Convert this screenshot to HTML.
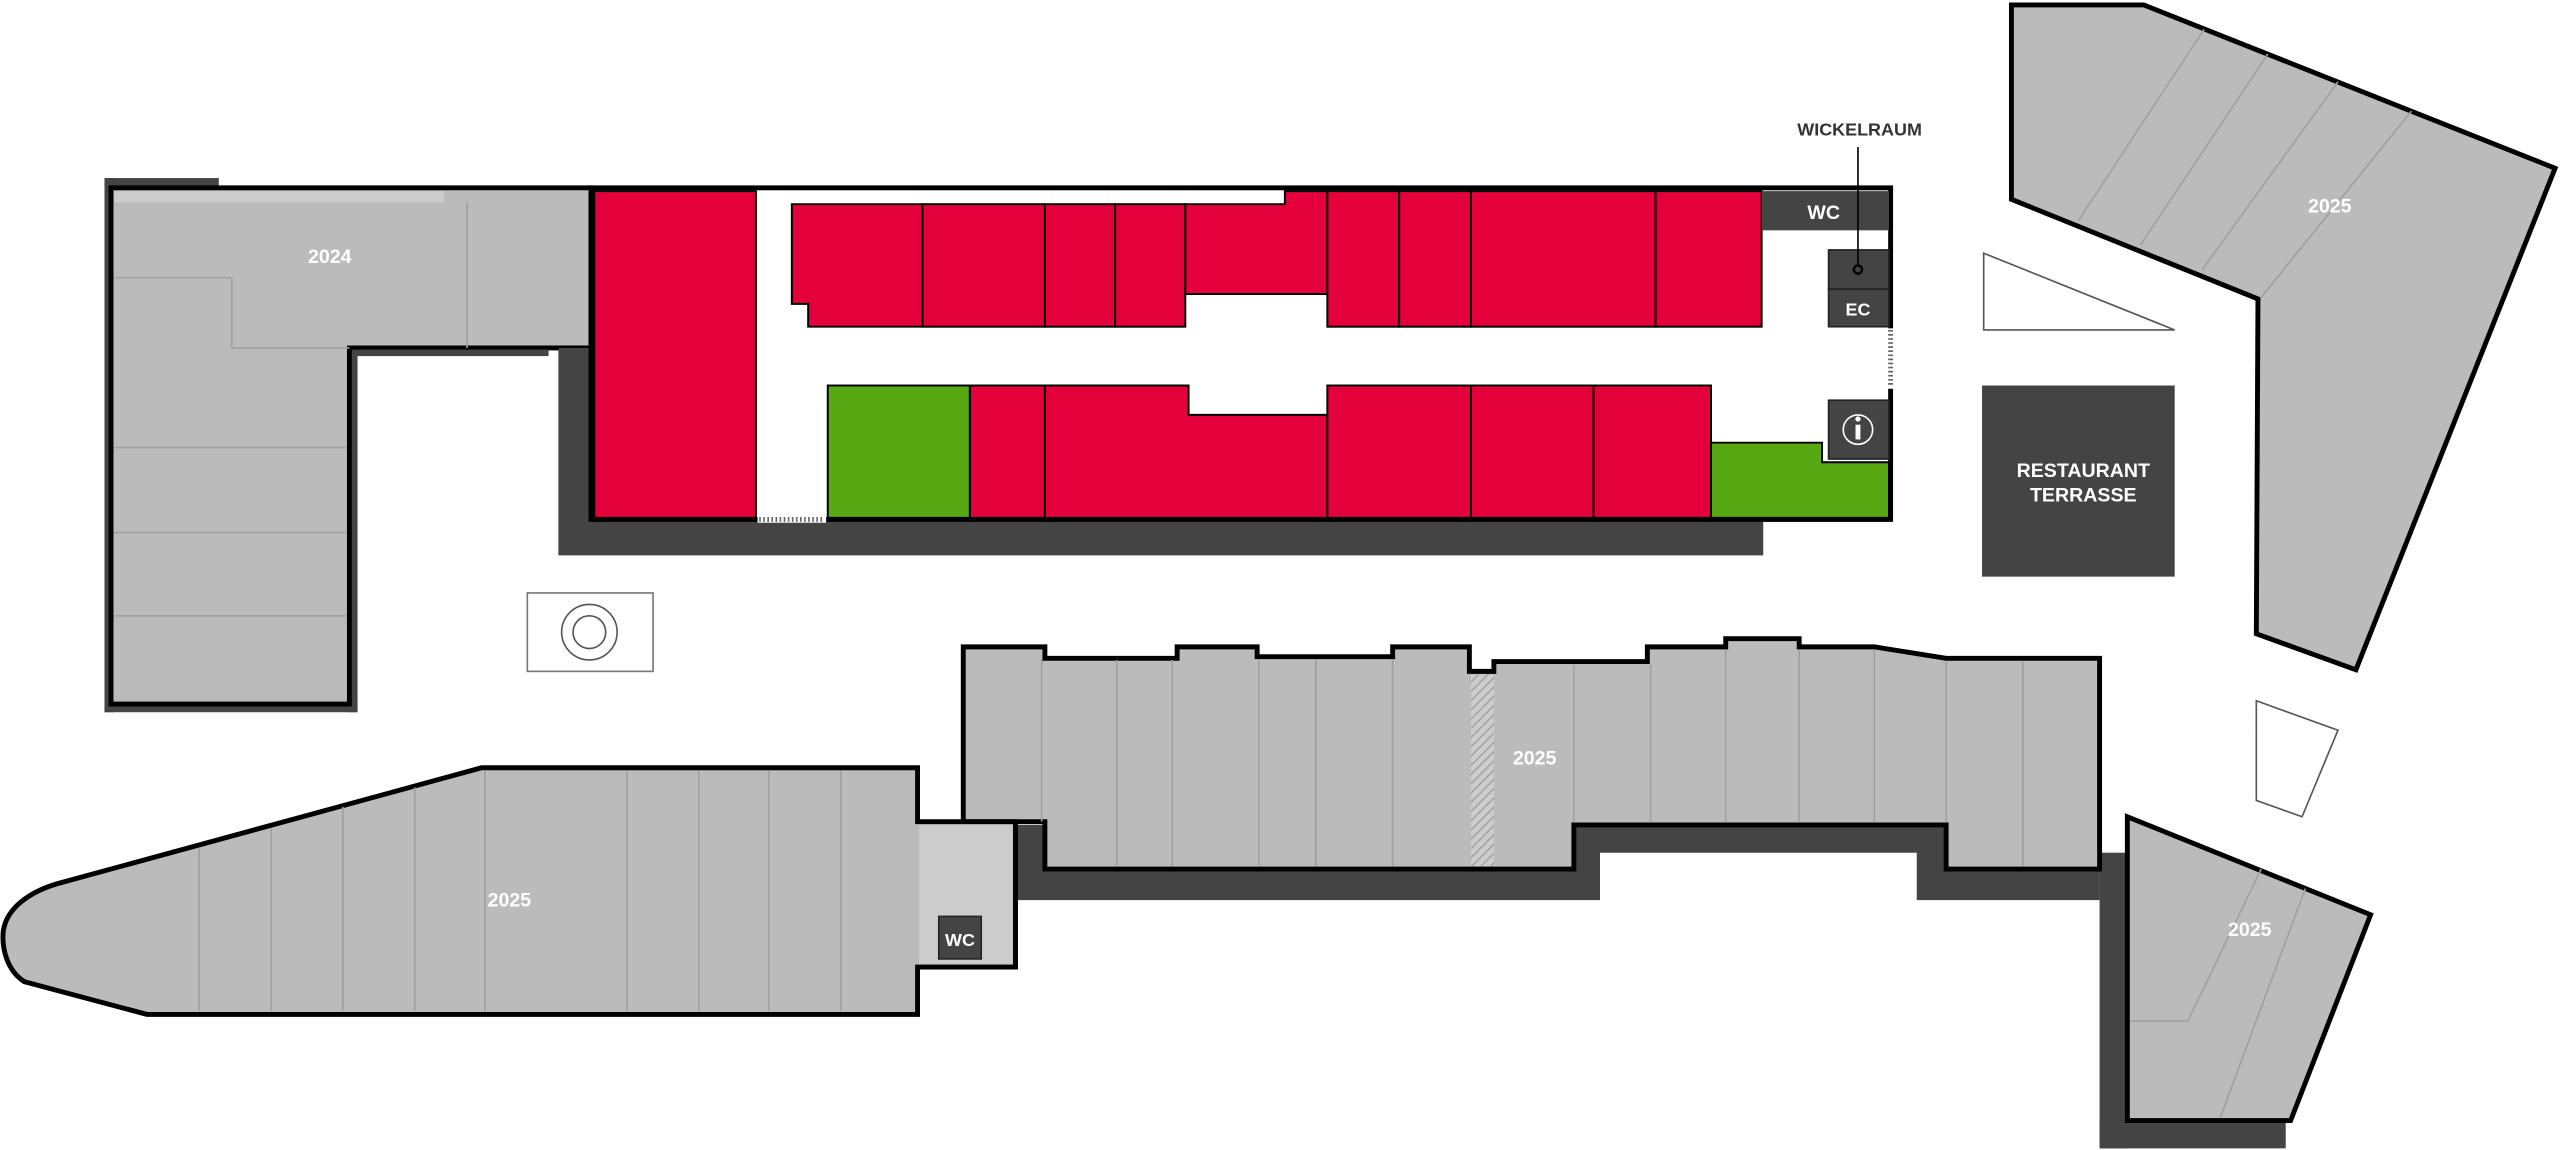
<!DOCTYPE html>
<html><head><meta charset="utf-8"><style>
html,body{margin:0;padding:0;background:#fff;}
svg{display:block;}
text{font-family:"Liberation Sans",sans-serif;font-weight:bold;fill:#fff;}
</style></head><body>
<svg width="2560" height="1150" viewBox="0 0 1568 704" preserveAspectRatio="none" xmlns="http://www.w3.org/2000/svg">
<rect width="1568" height="704" fill="#fff"/>
<!-- 2024 building -->
<rect x="64" y="109" width="70" height="6" fill="#444"/>
<rect x="64" y="109" width="6" height="327" fill="#444"/>
<rect x="64" y="430" width="155" height="6" fill="#444"/>
<rect x="213" y="213" width="6" height="223" fill="#444"/>
<polygon points="68,115 362,115 362,213 214,213 214,431 68,431" fill="#bbb" stroke="#000" stroke-width="3"/>
<rect x="70" y="117" width="202" height="7" fill="#ccc"/>
<g stroke="#a0a0a0" stroke-width="1" fill="none">
<polyline points="70,170 142,170 142,213 214,213"/>
<line x1="286" y1="124" x2="286" y2="213"/>
<line x1="70" y1="274" x2="212" y2="274"/>
<line x1="70" y1="326" x2="212" y2="326"/>
<line x1="70" y1="377" x2="212" y2="377"/>
</g>
<rect x="216" y="214" width="120" height="4" fill="#444"/>
<text x="202" y="161" font-size="12" text-anchor="middle">2024</text>

<!-- red block shadow -->
<rect x="342" y="213" width="738" height="127" fill="#444"/>
<rect x="362" y="115" width="796" height="203" fill="#fff" stroke="#000" stroke-width="3"/>
<g stroke="#000" stroke-width="1.2" fill="#e4003a">
<rect x="364" y="117" width="99" height="200"/>
<polygon points="485,125 565,125 565,200 495,200 495,186 485,186"/>
<rect x="565" y="125" width="75" height="75"/>
<rect x="640" y="125" width="43" height="75"/>
<rect x="683" y="125" width="43" height="75"/>
<polygon points="726,125 787,125 787,117 813,117 813,180 726,180"/>
<rect x="813" y="117" width="44" height="83"/>
<rect x="857" y="117" width="44" height="83"/>
<rect x="901" y="117" width="113" height="83"/>
<rect x="1014" y="117" width="65" height="83"/>
<rect x="594" y="236" width="46" height="81"/>
<polygon points="640,236 728,236 728,254 813,254 813,317 640,317"/>
<rect x="813" y="236" width="88" height="81"/>
<rect x="901" y="236" width="75" height="81"/>
<rect x="976" y="236" width="72" height="81"/>
</g>
<g stroke="#000" stroke-width="1.2" fill="#58a814">
<rect x="507" y="236" width="87" height="81"/>
<polygon points="1048,271 1116,271 1116,283 1157,283 1157,317 1048,317"/>
</g>
<rect x="1079" y="117" width="78" height="24" fill="#444"/>
<text x="1117" y="134" font-size="12" text-anchor="middle">WC</text>
<rect x="1120" y="153" width="37" height="24" fill="#444" stroke="#222" stroke-width="1"/>
<circle cx="1138" cy="165" r="2.5" fill="none" stroke="#000" stroke-width="1.5"/>
<rect x="1120" y="177" width="37" height="23" fill="#444" stroke="#222" stroke-width="1"/>
<text x="1138" y="193" font-size="11" text-anchor="middle">EC</text>
<rect x="1120" y="245" width="37" height="36" fill="#444" stroke="#222" stroke-width="1"/>
<circle cx="1138" cy="263" r="9" fill="none" stroke="#fff" stroke-width="1"/>
<rect x="1136.5" y="260" width="3" height="9" fill="#fff"/>
<circle cx="1138" cy="256.5" r="1.6" fill="#fff"/>
<line x1="1138" y1="90" x2="1138" y2="162" stroke="#000" stroke-width="1"/>
<text x="1139" y="83" font-size="11" text-anchor="middle" style="fill:#333">WICKELRAUM</text>
<rect x="1156" y="201" width="5" height="37" fill="#fff"/>
<line x1="1158" y1="202" x2="1158" y2="236" stroke="#666" stroke-width="3" stroke-dasharray="1,1.5"/>
<rect x="464" y="315" width="42" height="5" fill="#fff"/>
<line x1="465" y1="318" x2="505" y2="318" stroke="#666" stroke-width="3" stroke-dasharray="1,1.5"/>

<!-- fountain -->
<rect x="323" y="363" width="77" height="48" fill="#fff" stroke="#777" stroke-width="1"/>
<circle cx="361" cy="387" r="17" fill="none" stroke="#555" stroke-width="1"/>
<circle cx="361" cy="387" r="10" fill="none" stroke="#555" stroke-width="1"/>

<!-- shadows middle and bottom-right -->
<polygon points="622,505 1286,505 1286,551 1174,551 1174,522 980,522 980,551 622,551" fill="#444"/>
<rect x="1286" y="522" width="17" height="181" fill="#444"/>
<rect x="1286" y="686" width="114" height="17" fill="#444"/>

<!-- middle 2025 -->
<polygon points="590,396 640,396 640,403 721,403 721,396 770,396 770,402 853,402 853,396 900,396 900,411 915,411 915,405 1009,405 1009,396 1057,396 1057,391 1102,391 1102,396 1148,396 1192,403 1286,403 1286,532 1192,532 1192,505 964,505 964,532 640,532 640,503 590,503" fill="#bbb" stroke="#000" stroke-width="3"/>
<g stroke="#a0a0a0" stroke-width="1">
<line x1="638" y1="404" x2="638" y2="503"/>
<line x1="684" y1="404" x2="684" y2="530"/>
<line x1="718" y1="404" x2="718" y2="530"/>
<line x1="771" y1="404" x2="771" y2="530"/>
<line x1="806" y1="404" x2="806" y2="530"/>
<line x1="853" y1="404" x2="853" y2="530"/>
<line x1="964" y1="407" x2="964" y2="503"/>
<line x1="1011" y1="407" x2="1011" y2="503"/>
<line x1="1057" y1="398" x2="1057" y2="503"/>
<line x1="1102" y1="398" x2="1102" y2="503"/>
<line x1="1148" y1="398" x2="1148" y2="503"/>
<line x1="1192" y1="405" x2="1192" y2="503"/>
<line x1="1239" y1="405" x2="1239" y2="530"/>
</g>
<defs><pattern id="h" width="4" height="4" patternUnits="userSpaceOnUse" patternTransform="rotate(45)"><rect width="4" height="4" fill="#ccc"/><line x1="0" y1="0" x2="0" y2="4" stroke="#999" stroke-width="1.5"/></pattern></defs>
<rect x="901" y="413" width="14" height="117" fill="url(#h)"/>
<text x="940" y="468" font-size="12" text-anchor="middle">2025</text>

<!-- left-bottom 2025 -->
<path d="M295,470 L562,470 L562,503 L622,503 L622,592 L562,592 L562,621 L90,621 L15,601 C4,594 1,580 2,570 C4,556 18,546 35,541 Z" fill="#bbb" stroke="#000" stroke-width="3"/>
<polygon points="563,505 620,505 620,590 563,590" fill="#ccc"/>
<g stroke="#a0a0a0" stroke-width="1">
<line x1="122" y1="519" x2="122" y2="619"/>
<line x1="166" y1="507" x2="166" y2="619"/>
<line x1="210" y1="494" x2="210" y2="619"/>
<line x1="254" y1="482" x2="254" y2="619"/>
<line x1="297" y1="472" x2="297" y2="619"/>
<line x1="384" y1="472" x2="384" y2="619"/>
<line x1="428" y1="472" x2="428" y2="619"/>
<line x1="471" y1="472" x2="471" y2="619"/>
<line x1="515" y1="472" x2="515" y2="619"/>
</g>
<rect x="575" y="561" width="26" height="26" fill="#444" stroke="#222" stroke-width="1"/>
<text x="588" y="579" font-size="11" text-anchor="middle">WC</text>
<text x="312" y="555" font-size="12" text-anchor="middle">2025</text>

<!-- top-right 2025 -->
<polygon points="1232,3 1313,3 1565,103 1443,410 1382,388 1383,183 1232,122" fill="#bbb" stroke="#000" stroke-width="3"/>
<g stroke="#a0a0a0" stroke-width="1">
<line x1="1350" y1="18" x2="1273" y2="135"/>
<line x1="1389" y1="33" x2="1311" y2="150"/>
<line x1="1432" y1="50" x2="1349" y2="165"/>
<line x1="1477" y1="68" x2="1385" y2="182"/>
</g>
<text x="1427" y="130" font-size="12" text-anchor="middle">2025</text>

<polygon points="1215,155 1332,202 1215,202" fill="#fff" stroke="#555" stroke-width="1"/>
<rect x="1214" y="236" width="118" height="117" fill="#444"/>
<text x="1276" y="292" font-size="12" text-anchor="middle">RESTAURANT</text>
<text x="1276" y="307" font-size="12" text-anchor="middle">TERRASSE</text>
<polygon points="1382,429 1432,447 1410,500 1382,490" fill="#fff" stroke="#555" stroke-width="1"/>

<!-- bottom-right 2025 -->
<polygon points="1303,500 1452,560 1403,686 1303,686" fill="#bbb" stroke="#000" stroke-width="3"/>
<g stroke="#a0a0a0" stroke-width="1" fill="none">
<polyline points="1385,532 1340,625 1305,625"/>
<line x1="1412" y1="544" x2="1360" y2="684"/>
</g>
<text x="1378" y="573" font-size="12" text-anchor="middle">2025</text>
</svg>
</body></html>
